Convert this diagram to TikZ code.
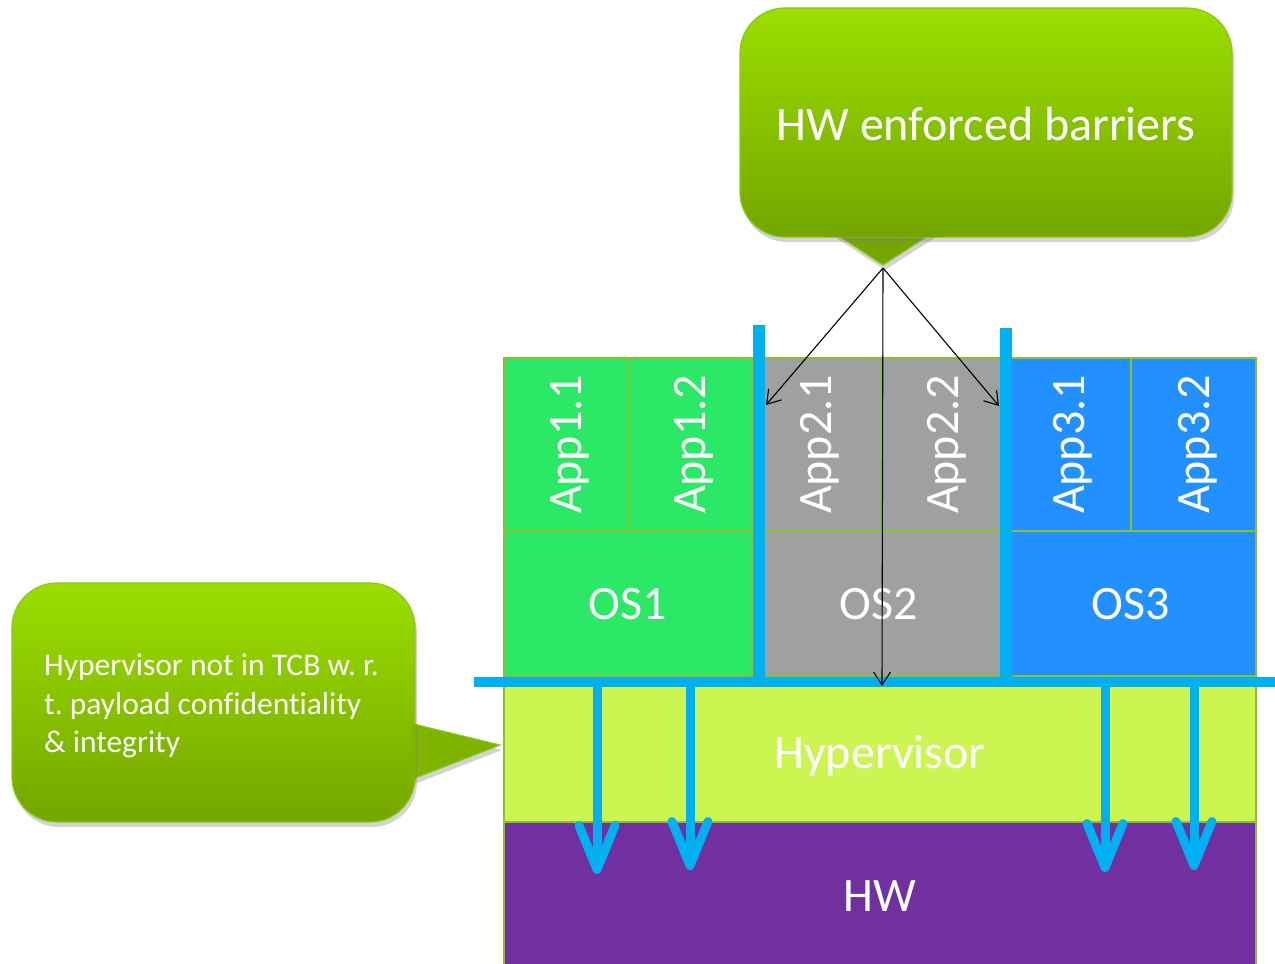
\documentclass[tikz,border=0pt]{standalone}
\usepackage{fontspec}
\setmainfont[Ligatures=NoCommon]{Carlito}
\frenchspacing
\usetikzlibrary{arrows.meta,shadows}
\definecolor{calltop}{HTML}{9BDE00}
\definecolor{callbot}{HTML}{74A600}
\definecolor{callline}{HTML}{8CC81A}
\definecolor{appgreen}{HTML}{2BE866}
\definecolor{appgray}{HTML}{A0A0A0}
\definecolor{appblue}{HTML}{2290FF}
\definecolor{hypcol}{HTML}{CCF552}
\definecolor{hwcol}{HTML}{7030A0}
\definecolor{barrier}{HTML}{00B0F0}
\definecolor{boxline}{HTML}{8DBF2A}
\begin{document}
\begin{tikzpicture}[x=1pt,y=-1pt,
  bigtext/.style={text=white,font=\fontsize{48}{56}\selectfont},
  box/.style={draw=boxline,line width=1.5pt,inner sep=0pt,outer sep=0pt,bigtext,text depth=0pt},
  appbox/.style={box,rotate=90,minimum width=173pt},
  osbox/.style={box,minimum height=145pt},
  callshade/.style={top color=calltop,bottom color=callbot,draw=callline,line width=1.2pt,
    drop shadow={opacity=0.35,shadow xshift=2pt,shadow yshift=-5pt}},
  callptr/.style={draw=callline,line width=1.2pt,
    drop shadow={opacity=0.35,shadow xshift=2pt,shadow yshift=-5pt}},
  barline/.style={draw=barrier,line width=12pt},
  hline/.style={draw=barrier,line width=10pt},
  bluearrow/.style={draw=barrier,line width=9pt,-{Straight Barb[length=44pt,width=36pt,round]}},
  blackarrow/.style={draw=black,line width=1.1pt,-{Straight Barb[length=13pt,width=17pt]}}
]
\useasboundingbox (0,0) rectangle (1275,964);

% ---------- top callout ----------
\filldraw[callptr,fill=callbot] (822,225) -- (883,265) -- (945,225);
\shade[callshade,rounded corners=45pt] (740,8) rectangle (1232,237);
\fill[callbot] (824,232) -- (943,232) -- (943,236.5) -- (824,236.5) -- cycle;
\node[bigtext] (hwb) at (986,124) {HW enforced barriers};
\coordinate (tip) at (883,268);

% ---------- left callout ----------
\filldraw[callptr,fill=callbot!75!calltop] (405,722) -- (500,745) -- (405,782);
\shade[callshade,rounded corners=45pt] (12,583) rectangle (415,822);
\fill[callbot!75!calltop] (412,724) -- (415.5,724) -- (415.5,780) -- (412,780) -- cycle;
\node[text=white,font=\fontsize{31.5}{38.5}\selectfont,align=left,anchor=north west,inner sep=0pt]
  (note) at (44,654) {Hypervisor not in TCB w. r.\\t. payload confidentiality\\\& integrity};

% ---------- application boxes ----------
\node[appbox,fill=appgreen,minimum height=124pt] (a11) at (566,444.5) {App1.1};
\node[appbox,fill=appgreen,minimum height=124pt] (a12) at (690,444.5) {App1.2};
\node[appbox,fill=appgray,minimum height=128pt] (a21) at (816,444.5) {App2.1};
\node[appbox,fill=appgray,minimum height=126pt] (a22) at (943,444.5) {App2.2};
\node[appbox,fill=appblue,minimum height=125pt] (a31) at (1068.5,444.5) {App3.1};
\node[appbox,fill=appblue,minimum height=125pt] (a32) at (1193.5,444.5) {App3.2};

% ---------- OS boxes ----------
\node[osbox,fill=appgreen,minimum width=248pt] (os1) at (628,603.5) {OS1};
\node[osbox,fill=appgray,minimum width=254pt] (os2) at (879,603.5) {OS2};
\node[osbox,fill=appblue,minimum width=250pt] (os3) at (1131,603.5) {OS3};

% ---------- hypervisor and hardware ----------
\node[box,fill=hwcol,minimum width=752pt,minimum height=160pt] (hw) at (880,902) {};
\node[bigtext] (hwtext) at (880,896) {HW};
\node[box,fill=hypcol,minimum width=752pt,minimum height=140pt] (hyp) at (880,752) {Hypervisor};

% ---------- blue arrows into the hardware ----------
\coordinate (b1s) at (597,682); \coordinate (b1e) at (597,874);
\coordinate (b2s) at (690,682); \coordinate (b2e) at (690,870);
\coordinate (b3s) at (1105,682); \coordinate (b3e) at (1105,872);
\coordinate (b4s) at (1194,682); \coordinate (b4e) at (1194,870);
\draw[bluearrow] (b1s) -- (b1e);
\draw[bluearrow] (b2s) -- (b2e);
\draw[bluearrow] (b3s) -- (b3e);
\draw[bluearrow] (b4s) -- (b4e);

% ---------- barriers ----------
\coordinate (v1t) at (758.5,325); \coordinate (v1b) at (758.5,682);
\coordinate (v2t) at (1006,328); \coordinate (v2b) at (1006,682);
\coordinate (hl) at (474,682); \coordinate (hr) at (1280,682);
\draw[barline] (v1t) -- (v1b);
\draw[barline] (v2t) -- (v2b);
\draw[hline] (hl) -- (hr);

% ---------- black arrows ----------
\coordinate (t1) at (766,405);
\coordinate (t2) at (999,406);
\coordinate (t3) at (882,686);
\draw[blackarrow] (tip) -- (t1);
\draw[blackarrow] (tip) -- (t2);
\draw[blackarrow] (tip) -- (t3);
\end{tikzpicture}
\end{document}
